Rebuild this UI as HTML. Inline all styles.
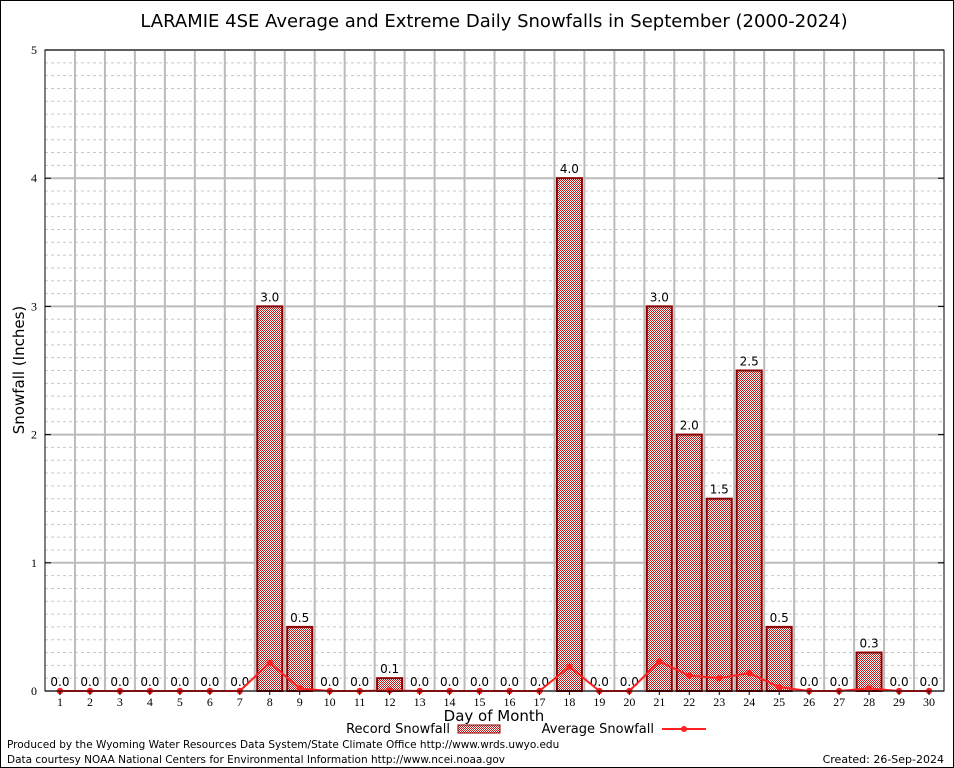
<!DOCTYPE html>
<html><head><meta charset="utf-8"><style>
body{margin:0;background:#fff}
svg{display:block;font-family:"DejaVu Sans","Liberation Sans",sans-serif}
</style></head><body>
<svg width="954" height="768" xmlns="http://www.w3.org/2000/svg">
<defs>
<pattern id="dots" width="2" height="2" patternUnits="userSpaceOnUse">
<rect width="2" height="2" fill="#fff"/><rect width="1" height="1" fill="#c01818"/><rect x="1" y="1" width="1" height="1" fill="#c01818"/>
</pattern>
</defs>
<rect x="0.5" y="0.5" width="953" height="767" fill="#fff" stroke="#000"/>
<text x="494" y="27" font-size="18" text-anchor="middle">LARAMIE 4SE Average and Extreme Daily Snowfalls in September (2000-2024)</text>
<g id="grid"></g><g id="bars"></g><g id="line"></g><g id="axes"></g>
<text transform="translate(24,370) rotate(-90)" font-size="15" text-anchor="middle">Snowfall (Inches)</text>
<text x="494" y="721" font-size="15" text-anchor="middle">Day of Month</text>
<g font-size="13">
<text x="450" y="733" text-anchor="end">Record Snowfall</text>
<rect x="458" y="725" width="42" height="8" fill="url(#dots)" stroke="#8b0000"/>
<text x="654" y="733" text-anchor="end">Average Snowfall</text>
<line x1="662" y1="729" x2="706" y2="729" stroke="#ff2020" stroke-width="2"/>
<circle cx="684" cy="729" r="3" fill="#ff2020"/>
</g>
<text x="7" y="748" font-size="10.5">Produced by the Wyoming Water Resources Data System/State Climate Office http://www.wrds.uwyo.edu</text>
<text x="7" y="763" font-size="10.5">Data courtesy NOAA National Centers for Environmental Information http://www.ncei.noaa.gov</text>
<text x="944" y="763" font-size="11" text-anchor="end">Created:  26-Sep-2024</text>
</svg>
<script>
const days=[1,2,3,4,5,6,7,8,9,10,11,12,13,14,15,16,17,18,19,20,21,22,23,24,25,26,27,28,29,30];
const records=[0,0,0,0,0,0,0,3.0,0.5,0,0,0.1,0,0,0,0,0,4.0,0,0,3.0,2.0,1.5,2.5,0.5,0,0,0.3,0,0];
const averages=[0,0,0,0,0,0,0,0.22,0.02,0,0,0.004,0,0,0,0,0,0.19,0,0,0.23,0.12,0.1,0.14,0.03,0,0,0.02,0,0];
const yTicks=[0,1,2,3,4,5];
const NS="http://www.w3.org/2000/svg";
const L=45,R=944,T=50,B=691,yMax=5;
const bw=(R-L)/days.length;
const xs=d=>L+(d-0.5)*bw;
const ys=v=>B-(v/yMax)*(B-T);
function mk(tag,attrs,parent,text){const e=document.createElementNS(NS,tag);for(const k in attrs)e.setAttribute(k,attrs[k]);if(text!==undefined)e.textContent=text;document.getElementById(parent).appendChild(e);return e;}
for(let i=1;i<=yMax*10-1;i++){if(i%10===0)continue;const y=ys(i/10);
const g=mk('line',{x1:L,x2:R,y1:y,y2:y,stroke:'#c8c8c8','stroke-dasharray':'3,3'},'grid');

}
for(const t of yTicks){const y=ys(t);
const g=mk('line',{x1:L,x2:R,y1:y,y2:y,stroke:'#bbb','stroke-width':2},'grid');


const lab=mk('text',{x:L-8,y:y+4,'font-size':12,'text-anchor':'end','font-family':'Liberation Serif,serif'},'axes',String(t));


const tk=mk('line',{x1:L,x2:L+6,y1:y,y2:y,stroke:'#000'},'axes');


const tk2=mk('line',{x1:R-6,x2:R,y1:y,y2:y,stroke:'#000'},'axes');

}
for(let i=1;i<days.length;i++){const x=L+i*bw;
const g=mk('line',{x1:x,x2:x,y1:T,y2:B,stroke:'#bbb','stroke-width':2},'grid');

}
days.forEach((d,i)=>{const v=records[i];
if(v>0){const r=mk('rect',{x:xs(d)-12.5,y:ys(v),width:25,height:B-ys(v),fill:'url(#dots)',stroke:'#8b0000','stroke-width':2},'bars');

}
const t=mk('text',{x:xs(d),y:ys(v)-5,'font-size':12,'text-anchor':'middle'},'bars',v.toFixed(1));


const xl=mk('text',{x:xs(d),y:B+15,'font-size':12,'text-anchor':'middle','font-family':'Liberation Serif,serif'},'axes',String(d));


const xt=mk('line',{x1:xs(d),x2:xs(d),y1:B,y2:B+4,stroke:'#000'},'axes');

});
const pts=days.map((d,i)=>xs(d)+','+ys(averages[i])).join(' ');
const pl=mk('polyline',{points:pts,fill:'none',stroke:'#ff2020','stroke-width':2},'line');


days.forEach((d,i)=>{const c=mk('circle',{cx:xs(d),cy:ys(averages[i]),r:3.2,fill:'#ff2020'},'line');

});
const fr=mk('rect',{x:L,y:T,width:R-L,height:B-T,fill:'none',stroke:'#000'},'axes');


</script>
</body></html>
